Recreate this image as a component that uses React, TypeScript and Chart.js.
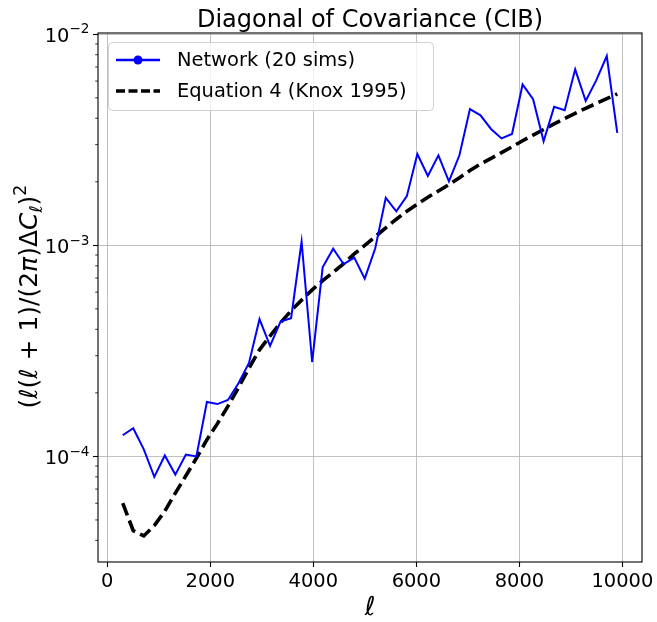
import React, { useEffect, useRef } from "react";
import { Chart, registerables } from "chart.js";

Chart.register(...registerables);

// ---- data ----
const ELL = [
  300, 504, 709, 913, 1117, 1321, 1526, 1730, 1934, 2138, 2343, 2547,
  2751, 2955, 3160, 3364, 3568, 3772, 3977, 4181, 4385, 4589, 4794, 4998,
  5202, 5406, 5611, 5815, 6019, 6223, 6428, 6632, 6836, 7040, 7245, 7449,
  7653, 7857, 8062, 8266, 8470, 8674, 8879, 9083, 9287, 9491, 9696, 9900,
];
const NETWORK = [
  1.26e-4, 1.36e-4, 1.08e-4, 8.0e-5, 1.01e-4, 8.2e-5, 1.02e-4, 1.0e-4, 1.81e-4, 1.77e-4, 1.85e-4, 2.22e-4,
  2.77e-4, 4.47e-4, 3.34e-4, 4.35e-4, 4.52e-4, 1.04e-3, 2.8e-4, 7.87e-4, 9.64e-4, 8.14e-4, 8.75e-4, 6.95e-4,
  9.68e-4, 1.68e-3, 1.45e-3, 1.71e-3, 2.71e-3, 2.13e-3, 2.67e-3, 2.01e-3, 2.67e-3, 4.42e-3, 4.13e-3, 3.56e-3,
  3.21e-3, 3.37e-3, 5.78e-3, 4.92e-3, 3.11e-3, 4.53e-3, 4.37e-3, 6.82e-3, 4.83e-3, 6.05e-3, 7.89e-3, 3.41e-3,
];
const KNOX = [
  6.0e-5, 4.45e-5, 4.2e-5, 4.7e-5, 5.5e-5, 6.7e-5, 8.1e-5, 9.8e-5, 1.2e-4, 1.43e-4, 1.73e-4, 2.12e-4,
  2.62e-4, 3.2e-4, 3.72e-4, 4.3e-4, 4.9e-4, 5.5e-4, 6.15e-4, 6.8e-4, 7.45e-4, 8.2e-4, 9.1e-4, 1.0e-3,
  1.1e-3, 1.21e-3, 1.33e-3, 1.45e-3, 1.57e-3, 1.69e-3, 1.81e-3, 1.94e-3, 2.09e-3, 2.26e-3, 2.43e-3, 2.58e-3,
  2.75e-3, 2.93e-3, 3.13e-3, 3.33e-3, 3.54e-3, 3.76e-3, 3.99e-3, 4.22e-3, 4.46e-3, 4.7e-3, 4.95e-3, 5.22e-3,
];
const X_TICKS = [0, 2000, 4000, 6000, 8000, 10000];
const Y_TICKS = [1e-4, 1e-3, 1e-2];
const Y_TICK_EXPONENTS = ["\u22124", "\u22123", "\u22122"];
const Y_MINOR_TICKS = [
  4e-5, 5e-5, 6e-5, 7e-5, 8e-5, 9e-5,
  2e-4, 3e-4, 4e-4, 5e-4, 6e-4, 7e-4, 8e-4, 9e-4,
  2e-3, 3e-3, 4e-3, 5e-3, 6e-3, 7e-3, 8e-3, 9e-3,
];
const TITLE = "Diagonal of Covariance (CIB)";
const LEGEND_LABELS = ["Network (20 sims)", "Equation 4 (Knox 1995)"];
const X_LABEL = "\u2113";

const FONT = "DejaVu Sans";
const TICK_PX = 19.44;

const overlayPlugin = {
  id: "overlay",
  afterDraw(chart: any) {
    const ctx = chart.ctx as CanvasRenderingContext2D;
    const a = chart.chartArea;
    const ys = chart.scales.y;
    ctx.save();

    // spines
    ctx.strokeStyle = "#000";
    ctx.lineWidth = 1.1;
    ctx.strokeRect(a.left, a.top, a.right - a.left, a.bottom - a.top);

    // minor y ticks
    ctx.lineWidth = 0.8;
    for (const v of Y_MINOR_TICKS) {
      const y = ys.getPixelForValue(v);
      if (y < a.top || y > a.bottom) continue;
      ctx.beginPath();
      ctx.moveTo(a.left - 2.8, y);
      ctx.lineTo(a.left, y);
      ctx.stroke();
    }

    // y tick labels 10^{-n}
    ctx.fillStyle = "#000";
    ctx.textBaseline = "alphabetic";
    Y_TICKS.forEach((v, i) => {
      const y = ys.getPixelForValue(v);
      const exp = Y_TICK_EXPONENTS[i];
      ctx.font = `${TICK_PX * 0.7}px ${FONT}`;
      const we = ctx.measureText(exp).width;
      ctx.font = `${TICK_PX}px ${FONT}`;
      const wb = ctx.measureText("10").width;
      const right = a.left - 8.5;
      const base = y + 7.5;
      ctx.textAlign = "left";
      ctx.fillText("10", right - we - wb, base);
      ctx.font = `${TICK_PX * 0.7}px ${FONT}`;
      ctx.fillText(exp, right - we, base - 8.3);
    });

    // title
    ctx.font = `24px ${FONT}`;
    ctx.textAlign = "center";
    ctx.fillText(TITLE, (a.left + a.right) / 2, 27);

    // x label
    ctx.font = `italic 26px ${FONT}`;
    ctx.fillText(X_LABEL, (a.left + a.right) / 2, 615);

    // y label (mathtext-like)
    const segs: [string, string, number, number][] = [
      ["(", "", 1, 0],
      ["\u2113", "italic ", 1, 0],
      ["(", "", 1, 0],
      ["\u2113", "italic ", 1, 0],
      [" + ", "", 1, 0],
      ["1)/(2", "", 1, 0],
      ["\u03c0", "italic ", 1, 0],
      [")\u0394", "", 1, 0],
      ["C", "italic ", 1, 0],
      ["\u2113", "italic ", 0.7, -0.2],
      [")", "", 1, 0],
      ["2", "", 0.7, 0.45],
    ];
    const measure = (S: number) => {
      let total = 0;
      const widths: number[] = [];
      for (const [t, st, sc] of segs) {
        ctx.font = `${st}${S * sc}px ${FONT}`;
        const w = ctx.measureText(t).width;
        widths.push(w);
        total += w;
      }
      return { total, widths };
    };
    let S = 25;
    const m0 = measure(S);
    S = S * (224 / m0.total);
    const m = measure(S);
    ctx.save();
    ctx.translate(37, 296.5);
    ctx.rotate(-Math.PI / 2);
    ctx.textAlign = "left";
    let xx = -m.total / 2;
    segs.forEach(([t, st, sc, dy], i) => {
      ctx.font = `${st}${S * sc}px ${FONT}`;
      ctx.fillText(t, xx, -dy * S);
      xx += m.widths[i];
    });
    ctx.restore();

    // legend
    const lx = 108.5, ly = 42.5, lw = 325, lh = 68;
    ctx.beginPath();
    ctx.roundRect(lx, ly, lw, lh, 4);
    ctx.fillStyle = "rgba(255,255,255,0.8)";
    ctx.fill();
    ctx.strokeStyle = "#d0d0d0";
    ctx.lineWidth = 1;
    ctx.stroke();

    const rows = [60, 91];
    ctx.strokeStyle = "#0000ff";
    ctx.lineWidth = 2.5;
    ctx.beginPath();
    ctx.moveTo(116, rows[0]);
    ctx.lineTo(160, rows[0]);
    ctx.stroke();
    ctx.fillStyle = "#0000ff";
    ctx.beginPath();
    ctx.arc(138, rows[0], 4.5, 0, Math.PI * 2);
    ctx.fill();
    ctx.strokeStyle = "#000";
    ctx.lineWidth = 3.5;
    ctx.setLineDash([9, 3.5]);
    ctx.beginPath();
    ctx.moveTo(116, rows[1]);
    ctx.lineTo(160, rows[1]);
    ctx.stroke();
    ctx.setLineDash([]);

    ctx.fillStyle = "#000";
    ctx.font = `${TICK_PX}px ${FONT}`;
    ctx.textAlign = "left";
    ctx.textBaseline = "middle";
    LEGEND_LABELS.forEach((t, i) => ctx.fillText(t, 177, rows[i] + 1));

    ctx.restore();
  },
};

export default function App() {
  const ref = useRef<HTMLCanvasElement | null>(null);
  useEffect(() => {
    if (!ref.current) return;
    const chart = new Chart(ref.current, {
      type: "line",
      data: {
        datasets: [
          {
            label: LEGEND_LABELS[0],
            data: ELL.map((x, i) => ({ x, y: NETWORK[i] })),
            borderColor: "#0000ff",
            borderWidth: 2,
            pointRadius: 0,
            fill: false,
            tension: 0,
          },
          {
            label: LEGEND_LABELS[1],
            data: ELL.map((x, i) => ({ x, y: KNOX[i] })),
            borderColor: "#000000",
            borderWidth: 3.6,
            borderDash: [13, 5.5],
            pointRadius: 0,
            fill: false,
            tension: 0,
          },
        ],
      },
      options: {
        animation: false,
        responsive: false,
        events: [],
        layout: { padding: { left: 0, right: 15, top: 33, bottom: 0 } },
        plugins: {
          legend: { display: false },
          title: { display: false },
          tooltip: { enabled: false },
        },
        scales: {
          x: {
            type: "linear",
            min: -180,
            max: 10380,
            afterBuildTicks: (s: any) => {
              s.ticks = X_TICKS.map((v) => ({ value: v }));
            },
            afterFit: (s: any) => {
              s.height = 60;
            },
            grid: {
              color: "#b0b0b0",
              lineWidth: 0.8,
              tickColor: "#000",
              tickLength: 5,
              tickWidth: 1.1,
            },
            border: { display: false },
            ticks: {
              color: "#000",
              font: { family: FONT, size: TICK_PX },
              padding: 3,
              maxRotation: 0,
              autoSkip: false,
              callback: (v: any) => String(v),
            },
          },
          y: {
            type: "logarithmic",
            min: 3.16e-5,
            max: 1.014e-2,
            afterBuildTicks: (s: any) => {
              s.ticks = Y_TICKS.map((v) => ({ value: v }));
            },
            afterFit: (s: any) => {
              s.width = 98;
            },
            grid: {
              color: "#b0b0b0",
              lineWidth: 0.8,
              tickColor: "#000",
              tickLength: 5,
              tickWidth: 1.1,
            },
            border: { display: false },
            ticks: { display: false },
          },
        },
      },
      plugins: [overlayPlugin],
    } as any);
    return () => chart.destroy();
  }, []);
  return (
    <div style={{ position: "absolute", left: 0, top: 0, width: 657, height: 622, background: "#fff" }}>
      <canvas ref={ref} width={657} height={622} style={{ display: "block" }} />
    </div>
  );
}
